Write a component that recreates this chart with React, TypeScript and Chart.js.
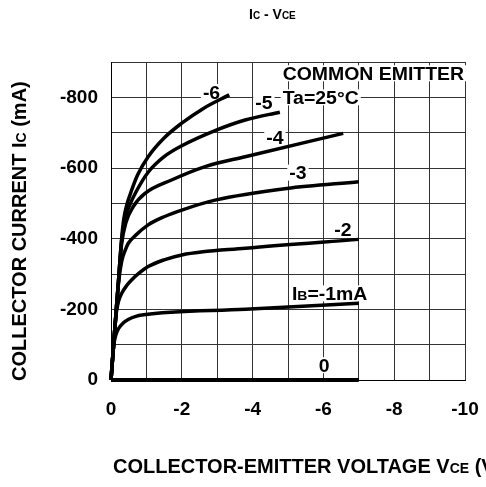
import React, { useEffect, useRef } from "react";
import { Chart, registerables } from "chart.js";

Chart.register(...registerables);

// Collector-emitter voltage (V) and collector current (mA) for each base current
const vceIb0 = [0, -7];
const icIb0 = [0, 0];
const vceIb1 = [0, -0.05, -0.08, -0.13, -0.21, -0.35, -0.5, -0.7, -0.87, -3.8, -7];
const icIb1 = [0, -68, -100, -125, -145, -162, -172, -180, -184, -200, -217];
const vceIb2 = [0, -0.1, -0.15, -0.22, -0.3, -0.45, -0.58, -0.8, -1.05, -1.5, -2, -3.8, -7];
const icIb2 = [0, -135, -190, -225, -245, -268, -283, -303, -321, -340, -354, -373, -398];
const vceIb3 = [0, -0.1, -0.2, -0.3, -0.4, -0.49, -0.7, -1.05, -1.5, -2, -2.94, -4.96, -7];
const icIb3 = [0, -135, -262, -335, -367, -387, -410, -439, -462, -481, -509, -542, -561];
const vceIb4 = [0, -0.1, -0.2, -0.3, -0.42, -0.63, -0.96, -1.71, -2.66, -3.79, -6.56];
const icIb4 = [0, -135, -265, -385, -445, -491, -528, -566, -604, -632, -698];
const vceIb5 = [0, -0.1, -0.2, -0.3, -0.4, -0.55, -0.72, -1.05, -1.5, -2, -2.94, -3.79, -4.77];
const icIb5 = [0, -135, -265, -395, -458, -500, -535, -588, -632, -663, -706, -736, -758];
const vceIb6 = [0, -0.1, -0.2, -0.3, -0.36, -0.45, -0.54, -0.75, -1.05, -1.5, -2, -2.6, -3.34];
const icIb6 = [0, -135, -265, -400, -455, -497, -525, -580, -632, -685, -727, -768, -807];

const xTickValues = [0, -2, -4, -6, -8, -10];
const yTickValues = [0, -200, -400, -600, -800];

// Curve labels: text segments ([text, isSmall]) and anchor in data units
type Seg = [string, boolean];
const curveLabels: { segs: Seg[]; v: number; i: number; align: "left" | "center" }[] = [
  { segs: [["-6", false]], v: -2.84, i: -815, align: "center" },
  { segs: [["-5", false]], v: -4.32, i: -785, align: "center" },
  { segs: [["-4", false]], v: -4.63, i: -686, align: "center" },
  { segs: [["-3", false]], v: -5.28, i: -587, align: "center" },
  { segs: [["-2", false]], v: -6.55, i: -427, align: "center" },
  { segs: [["I", false], ["B", true], ["=-1mA", false]], v: -5.11, i: -245, align: "left" },
  { segs: [["0", false]], v: -6.02, i: -42, align: "center" },
  { segs: [["Ta=25°C", false]], v: -4.85, i: -800, align: "left" },
  { segs: [["COMMON EMITTER", false]], v: -4.85, i: -868, align: "left" },
];

const FAMILY = '"Liberation Sans", Arial, sans-serif';
const font = (size: number) => `bold ${size}px ${FAMILY}`;

function measureSegs(ctx: CanvasRenderingContext2D, segs: Seg[], size: number) {
  let w = 0;
  for (const [t, small] of segs) {
    ctx.font = font(small ? Math.round(size * 0.72) : size);
    w += ctx.measureText(t).width;
  }
  return w;
}

function drawSegs(ctx: CanvasRenderingContext2D, segs: Seg[], x: number, y: number, size: number) {
  let cx = x;
  ctx.textBaseline = "alphabetic";
  ctx.textAlign = "left";
  for (const [t, small] of segs) {
    ctx.font = font(small ? Math.round(size * 0.72) : size);
    ctx.fillText(t, cx, y);
    cx += ctx.measureText(t).width;
  }
}

const LABEL_SIZE = 18;
const LABEL_STRETCH = 1.08;

function labelBox(chart: any, ctx: CanvasRenderingContext2D, l: (typeof curveLabels)[number]) {
  const w = measureSegs(ctx, l.segs, LABEL_SIZE) * LABEL_STRETCH;
  const px = chart.scales.x.getPixelForValue(l.v);
  const py = chart.scales.y.getPixelForValue(l.i);
  const left = l.align === "center" ? px - w / 2 : px;
  return { left, py, w };
}

const textPlugin = {
  id: "textPlugin",
  beforeDatasetsDraw(chart: any) {
    const ctx = chart.ctx as CanvasRenderingContext2D;
    ctx.save();
    ctx.fillStyle = "#fff";
    for (const l of curveLabels) {
      const { left, py, w } = labelBox(chart, ctx, l);
      ctx.fillRect(left - 2, py - 8, w + 4, 16);
    }
    ctx.restore();
  },
  afterDatasetsDraw(chart: any) {
    const ctx = chart.ctx as CanvasRenderingContext2D;
    ctx.save();
    ctx.fillStyle = "#000";
    for (const l of curveLabels) {
      const { left, py } = labelBox(chart, ctx, l);
      ctx.save();
      ctx.translate(left, py + 6.5);
      ctx.scale(LABEL_STRETCH, 1);
      drawSegs(ctx, l.segs, 0, 0, LABEL_SIZE);
      ctx.restore();
    }
    ctx.restore();
  },
  afterDraw(chart: any) {
    const ctx = chart.ctx as CanvasRenderingContext2D;
    ctx.save();
    ctx.fillStyle = "#000";
    // Title
    drawSegs(ctx, [["I", false], ["C", true], [" - V", false], ["CE", true]], 249, 19, 14);
    // X axis title
    drawSegs(
      ctx,
      [["COLLECTOR-EMITTER VOLTAGE V", false], ["CE", true], [" (V)", false]],
      113,
      473,
      20
    );
    // Y axis title (rotated)
    ctx.translate(26, 381);
    ctx.rotate(-Math.PI / 2);
    drawSegs(ctx, [["COLLECTOR CURRENT I", false], ["C", true], [" (mA)", false]], 0, 0, 20);
    ctx.restore();
  },
};

function pts(xs: number[], ys: number[]) {
  return xs.map((x, k) => ({ x, y: ys[k] }));
}

export default function App() {
  const ref = useRef<HTMLCanvasElement>(null);
  useEffect(() => {
    if (!ref.current) return;
    const mk = (xs: number[], ys: number[], w = 3.5) => ({
      data: pts(xs, ys),
      borderColor: "#000",
      borderWidth: w,
      showLine: true,
      pointRadius: 0,
      cubicInterpolationMode: "monotone" as const,
      clip: false as const,
    });
    const chart = new Chart(ref.current, {
      type: "scatter",
      data: {
        datasets: [
          mk(vceIb0, icIb0, 4),
          mk(vceIb1, icIb1),
          mk(vceIb2, icIb2),
          mk(vceIb3, icIb3),
          mk(vceIb4, icIb4),
          mk(vceIb5, icIb5),
          mk(vceIb6, icIb6),
        ],
      },
      options: {
        animation: false,
        responsive: false,
        layout: { padding: { top: 62, right: 21, left: 0, bottom: 0 }, autoPadding: false },
        plugins: { legend: { display: false }, tooltip: { enabled: false } },
        scales: {
          x: {
            type: "linear",
            min: -10,
            max: 0,
            reverse: true,
            afterFit: (s: any) => {
              s.height = 107;
              s.paddingLeft = 0;
              s.paddingRight = 0;
            },
            grid: { color: "#333", lineWidth: 1, drawTicks: false },
            border: { display: true, color: "#000", width: 1 },
            ticks: {
              stepSize: 1,
              autoSkip: false,
              maxRotation: 0,
              padding: 18,
              color: "#000",
              font: { family: FAMILY, size: 19, weight: "bold" },
              callback: (v: any) => (xTickValues.includes(Number(v)) ? String(Math.abs(v) === 0 ? 0 : v) : ""),
            },
          },
          y: {
            type: "linear",
            min: -900,
            max: 0,
            reverse: true,
            afterFit: (s: any) => {
              s.width = 111;
              s.paddingTop = 0;
              s.paddingBottom = 0;
            },
            grid: { color: "#333", lineWidth: 1, drawTicks: false },
            border: { display: true, color: "#000", width: 1 },
            ticks: {
              stepSize: 100,
              autoSkip: false,
              padding: 13,
              color: "#000",
              font: { family: FAMILY, size: 19, weight: "bold" },
              callback: (v: any) => (yTickValues.includes(Number(v)) ? String(Math.abs(v) === 0 ? 0 : v) : ""),
            },
          },
        },
      },
      plugins: [textPlugin],
    } as any);
    return () => chart.destroy();
  }, []);
  return (
    <div style={{ position: "absolute", left: 0, top: 0, width: 486, height: 487, background: "#fff" }}>
      <canvas ref={ref} width={486} height={487} />
    </div>
  );
}
